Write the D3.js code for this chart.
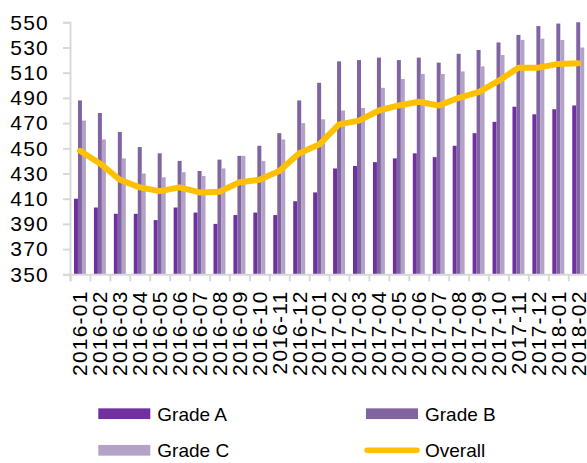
<!DOCTYPE html>
<html>
<head>
<meta charset="utf-8">
<script src="https://cdn.jsdelivr.net/npm/d3@7"></script>
<style>
  html, body { margin: 0; padding: 0; background: #fff; }
  svg { display: block; font-family: "Liberation Sans", Arial, sans-serif; }
</style>
</head>
<body>
<svg id="chart" width="587" height="463"></svg>
<script>
// Monthly categories
const categories = [
  "2016-01","2016-02","2016-03","2016-04","2016-05","2016-06","2016-07","2016-08",
  "2016-09","2016-10","2016-11","2016-12","2017-01","2017-02","2017-03","2017-04",
  "2017-05","2017-06","2017-07","2017-08","2017-09","2017-10","2017-11","2017-12",
  "2018-01","2018-02"
];

// Series values
const gradeA = [410, 403, 398, 398, 393, 403, 399, 390, 397, 399, 397, 408, 415,
                434, 436, 439, 442, 446, 443, 452, 462, 471, 483, 477, 481, 484];
const gradeB = [488, 478, 463, 451, 446, 440, 432, 441, 444, 452, 462, 488, 502,
                519, 520, 522, 520, 522, 518, 525, 528, 534, 540, 547, 549, 550];
const gradeC = [472, 457, 442, 430, 427, 431, 428, 434, 444, 440, 457, 470, 473,
                480, 482, 498, 505, 509, 509, 511, 515, 524, 536, 537, 536, 530];
const overall = [448, 438, 425, 419, 416, 419, 415, 415.5, 423, 425, 432, 446, 453,
                 469, 472, 480, 484, 487, 484, 490, 494.5, 503.5, 514, 514, 517, 517.5];

// Y axis ticks
const yTicks = [350, 370, 390, 410, 430, 450, 470, 490, 510, 530, 550];

const barSeries = [
  { name: "Grade A", values: gradeA, color: "#7030A0" },
  { name: "Grade B", values: gradeB, color: "#8064A2" },
  { name: "Grade C", values: gradeC, color: "#B3A2C7" }
];
const lineColor = "#FFC000";
const axisColor = "#D9D9D9";

const svg = d3.select("#chart");

const plot = { left: 70, right: 588.2, top: 22.3, bottom: 274.3 };

const x = d3.scaleBand()
  .domain(categories)
  .range([plot.left, plot.right])
  .paddingInner(0.4)
  .paddingOuter(0.2);

// Boundaries between categories, for the tick marks
const xIndex = d3.scaleLinear()
  .domain([0, categories.length])
  .range([plot.left, plot.right]);

const xSub = d3.scaleBand()
  .domain(barSeries.map(s => s.name))
  .range([0, x.bandwidth()]);

const y = d3.scaleLinear()
  .domain([350, 550])
  .range([plot.bottom, plot.top]);

// Bars
const groups = svg.append("g").attr("class", "bars")
  .selectAll("g")
  .data(categories)
  .join("g")
  .attr("transform", d => `translate(${x(d)},0)`);

groups.selectAll("rect")
  .data((d, i) => barSeries.map(s => ({ name: s.name, color: s.color, value: s.values[i] })))
  .join("rect")
  .attr("x", d => xSub(d.name))
  .attr("width", xSub.bandwidth())
  .attr("y", d => y(d.value))
  .attr("height", d => y(350) - y(d.value))
  .attr("fill", d => d.color);

// Y axis
const yAxis = svg.append("g")
  .attr("transform", `translate(${plot.left},0)`)
  .call(d3.axisLeft(y).tickValues(yTicks).tickSize(7).tickPadding(14).tickFormat(d3.format("d")));
yAxis.select(".domain").attr("stroke", axisColor).attr("stroke-width", 2);
yAxis.selectAll(".tick line").attr("stroke", axisColor).attr("stroke-width", 2);
yAxis.selectAll(".tick text")
  .attr("font-size", 21)
  .attr("letter-spacing", "1.2px")
  .attr("fill", "#000")
  .attr("font-family", "'Liberation Sans', Arial, sans-serif");

// X axis: boundary ticks
const xTickAxis = svg.append("g")
  .attr("transform", `translate(0,${plot.bottom})`)
  .call(d3.axisBottom(xIndex).tickValues(d3.range(0, categories.length + 1)).tickSize(7).tickFormat(""));
xTickAxis.select(".domain").attr("stroke", axisColor).attr("stroke-width", 2);
xTickAxis.selectAll(".tick line").attr("stroke", axisColor).attr("stroke-width", 2);

// X axis: rotated category labels
const xLabelAxis = svg.append("g")
  .attr("transform", `translate(0,${plot.bottom})`)
  .call(d3.axisBottom(x).tickSize(0).tickPadding(0));
xLabelAxis.select(".domain").remove();
xLabelAxis.selectAll(".tick text")
  .attr("transform", "rotate(-90)")
  .attr("text-anchor", "end")
  .attr("x", -16.2)
  .attr("y", 0)
  .attr("dy", "0.35em")
  .attr("font-size", 21)
  .attr("letter-spacing", "1.2px")
  .attr("fill", "#000")
  .attr("font-family", "'Liberation Sans', Arial, sans-serif");

// Overall line
const line = d3.line()
  .x((d, i) => x(categories[i]) + x.bandwidth() / 2)
  .y(d => y(d));

svg.append("path")
  .datum(overall)
  .attr("d", line)
  .attr("fill", "none")
  .attr("stroke", lineColor)
  .attr("stroke-width", 6)
  .attr("stroke-linejoin", "round")
  .attr("stroke-linecap", "round");

// Legend
const legendItems = [
  { name: "Grade A", color: barSeries[0].color, type: "bar", x: 98.3, y: 413.7 },
  { name: "Grade B", color: barSeries[1].color, type: "bar", x: 366, y: 413.7 },
  { name: "Grade C", color: barSeries[2].color, type: "bar", x: 98.3, y: 450.3 },
  { name: "Overall", color: lineColor, type: "line", x: 366, y: 450.3 }
];

const legend = svg.append("g").attr("class", "legend")
  .selectAll("g")
  .data(legendItems)
  .join("g")
  .attr("transform", d => `translate(${d.x},${d.y})`);

legend.filter(d => d.type === "bar").append("rect")
  .attr("x", 0).attr("y", -5.35)
  .attr("width", 52).attr("height", 10.7)
  .attr("fill", d => d.color);

legend.filter(d => d.type === "line").append("line")
  .attr("x1", 1).attr("x2", 51)
  .attr("y1", 0).attr("y2", 0)
  .attr("stroke", d => d.color)
  .attr("stroke-width", 5.5)
  .attr("stroke-linecap", "round");

legend.append("text")
  .attr("x", 59)
  .attr("y", 0)
  .attr("dy", "0.36em")
  .attr("font-size", 19)
  .attr("fill", "#000")
  .text(d => d.name);
</script>
</body>
</html>
